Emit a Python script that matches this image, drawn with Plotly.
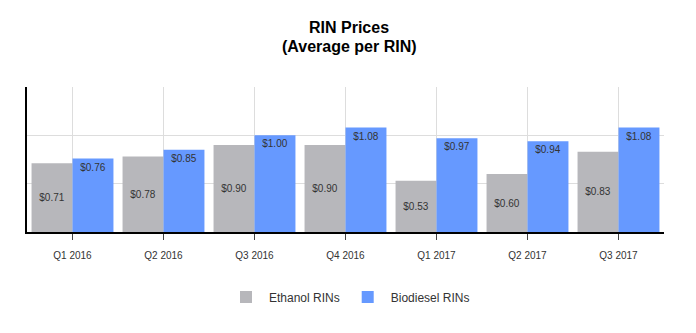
import plotly.graph_objects as go

quarters = ["Q1 2016", "Q2 2016", "Q3 2016", "Q4 2016", "Q1 2017", "Q2 2017", "Q3 2017"]
ethanol = [0.71, 0.78, 0.90, 0.90, 0.53, 0.60, 0.83]
biodiesel = [0.76, 0.85, 1.00, 1.08, 0.97, 0.94, 1.08]

FONT = "Liberation Sans, Arial, sans-serif"
TXT = "#333333"

fig = go.Figure()
fig.add_trace(go.Bar(
    x=quarters, y=ethanol, name="Ethanol RINs",
    marker=dict(color="#b7b7bb", line=dict(width=0)),
    texttemplate="$%{y:.2f}", textposition="inside", insidetextanchor="middle",
    textangle=0, constraintext="none",
    textfont=dict(family=FONT, size=10, color=TXT),
))
fig.add_trace(go.Bar(
    x=quarters, y=biodiesel, name="Biodiesel RINs",
    marker=dict(color="#6699ff", line=dict(width=0)),
    texttemplate="$%{y:.2f}", textposition="inside", insidetextanchor="end",
    textangle=0, constraintext="none",
    textfont=dict(family=FONT, size=10, color=TXT),
))

fig.update_layout(
    width=696, height=333,
    margin=dict(l=27, r=32, t=87, b=101),
    paper_bgcolor="white", plot_bgcolor="white",
    barmode="group", bargap=0.1, bargroupgap=0,
    font=dict(family=FONT, size=10, color=TXT),
    showlegend=True,
    legend=dict(orientation="h", x=0.5055, xanchor="center", y=-0.448, yanchor="middle",
                font=dict(family=FONT, size=12, color=TXT), itemwidth=36,
                traceorder="normal"),
    xaxis=dict(type="category", showgrid=True, gridcolor="#dddddd", gridwidth=1,
               showline=True, linecolor="black", linewidth=2,
               ticks="outside", ticklen=6, tickcolor="#444444",
               ticklabelstandoff=7,
               tickfont=dict(family=FONT, size=10, color=TXT)),
    yaxis=dict(range=[0, 1.5], dtick=0.5, showgrid=True, gridcolor="#dddddd",
               showticklabels=False, zeroline=False,
               showline=True, linecolor="black", linewidth=2, ticks=""),
    annotations=[
        dict(text="<b>RIN Prices</b>", xref="paper", yref="paper", x=0.5055, y=1.407,
             xanchor="center", yanchor="middle", showarrow=False,
             font=dict(family=FONT, size=16, color="black")),
        dict(text="<b>(Average per RIN)</b>", xref="paper", yref="paper", x=0.5055, y=1.276,
             xanchor="center", yanchor="middle", showarrow=False,
             font=dict(family=FONT, size=16, color="black")),
    ],
)

fig.write_html("out.html")
